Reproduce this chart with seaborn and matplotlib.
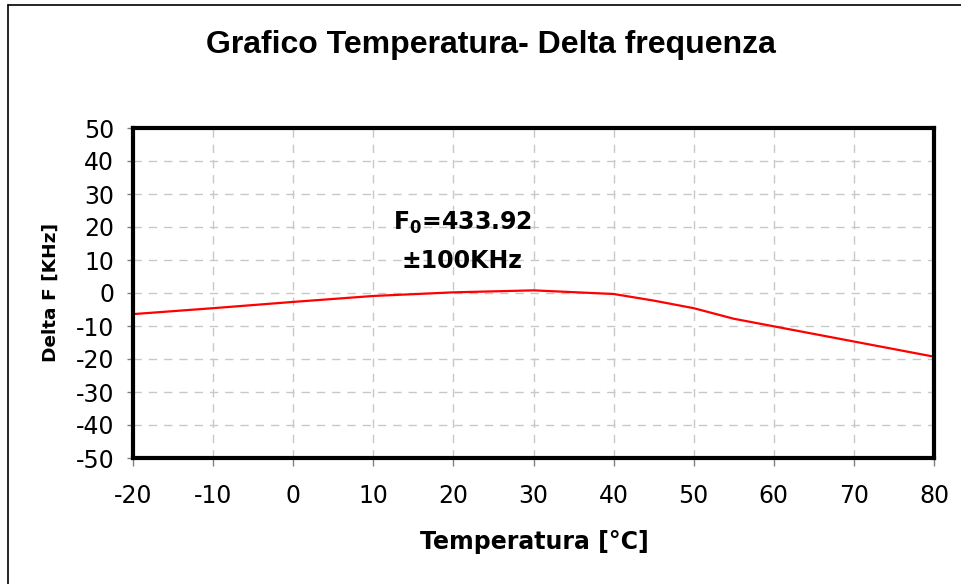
import matplotlib
matplotlib.use("Agg")
import matplotlib.pyplot as plt
import seaborn as sns
import pandas as pd
from matplotlib.lines import Line2D

temperature = [-20, -10, 0, 10, 20, 30, 40, 45, 50, 55, 60, 70, 80]
delta_f = [-6.4, -4.6, -2.7, -0.9, 0.2, 0.8, -0.3, -2.3, -4.6, -7.8, -10.1, -14.7, -19.3]
x_ticks = [-20, -10, 0, 10, 20, 30, 40, 50, 60, 70, 80]
y_ticks = [-50, -40, -30, -20, -10, 0, 10, 20, 30, 40, 50]

title = "Grafico Temperatura- Delta frequenza"
xlabel = "Temperatura [°C]"
ylabel = "Delta F [KHz]"
note = r"F$_\mathbf{0}$=433.92" + "\n" + "±100KHz"

sns.set_style("white")
plt.rcParams['font.family'] = ['DejaVu Sans']
plt.rcParams['text.color'] = 'black'
plt.rcParams['xtick.color'] = 'black'
plt.rcParams['ytick.color'] = 'black'
plt.rcParams['mathtext.fontset'] = 'dejavusans'

df = pd.DataFrame({"T": temperature, "dF": delta_f})

fig = plt.figure(figsize=(9.62, 5.84), dpi=100)
ax = fig.add_axes([133/962, 1-458/584, (934-133)/962, (458-128)/584])

sns.lineplot(data=df, x="T", y="dF", color="#ff0000", linewidth=1.6, ax=ax)

ax.set_xlim(-20, 80)
ax.set_ylim(-50, 50)
ax.set_xticks(x_ticks)
ax.set_yticks(y_ticks)
ax.set_xticklabels([str(v) for v in x_ticks], fontsize=17)
ax.set_yticklabels([str(v) for v in y_ticks], fontsize=17)
ax.grid(True, color="#c8c8c8", linestyle=(0, (6, 5)), linewidth=1)
ax.tick_params(axis="x", direction="out", length=6, width=1, color="#808080",
               labelcolor="black", pad=13, bottom=True)
ax.tick_params(axis="y", direction="out", length=4.5, width=1, color="#808080",
               labelcolor="black", pad=9, left=True)
for s in ax.spines.values():
    s.set_visible(True)
    s.set_color("black")
    s.set_linewidth(3)

ax.set_xlabel("")
ax.set_ylabel("")
fig.text(534/962, 1-542/584, xlabel, ha="center", va="center", fontsize=17,
         fontweight="bold", color="black")
fig.text(51/962, 1-292/584, ylabel, ha="center", va="center", rotation=90,
         fontsize=13.3, fontweight="bold", color="black")
fig.text(491/962, 1-45/584, title, ha="center", va="center", fontsize=23,
         fontweight="bold", color="black", family=["Liberation Sans", "DejaVu Sans"])
ax.text(21.1, 15.7, note, ha="center", va="center", fontsize=17, fontweight="bold",
        linespacing=1.7, color="black")

# outer chart frame (top and left edges visible)
fig.add_artist(Line2D([8/962, 8/962], [0, 1-5/584], transform=fig.transFigure,
                      color="black", linewidth=1.2))
fig.add_artist(Line2D([8/962, 1], [1-5/584, 1-5/584], transform=fig.transFigure,
                      color="black", linewidth=1.2))

fig.savefig("out.png", dpi=100)
